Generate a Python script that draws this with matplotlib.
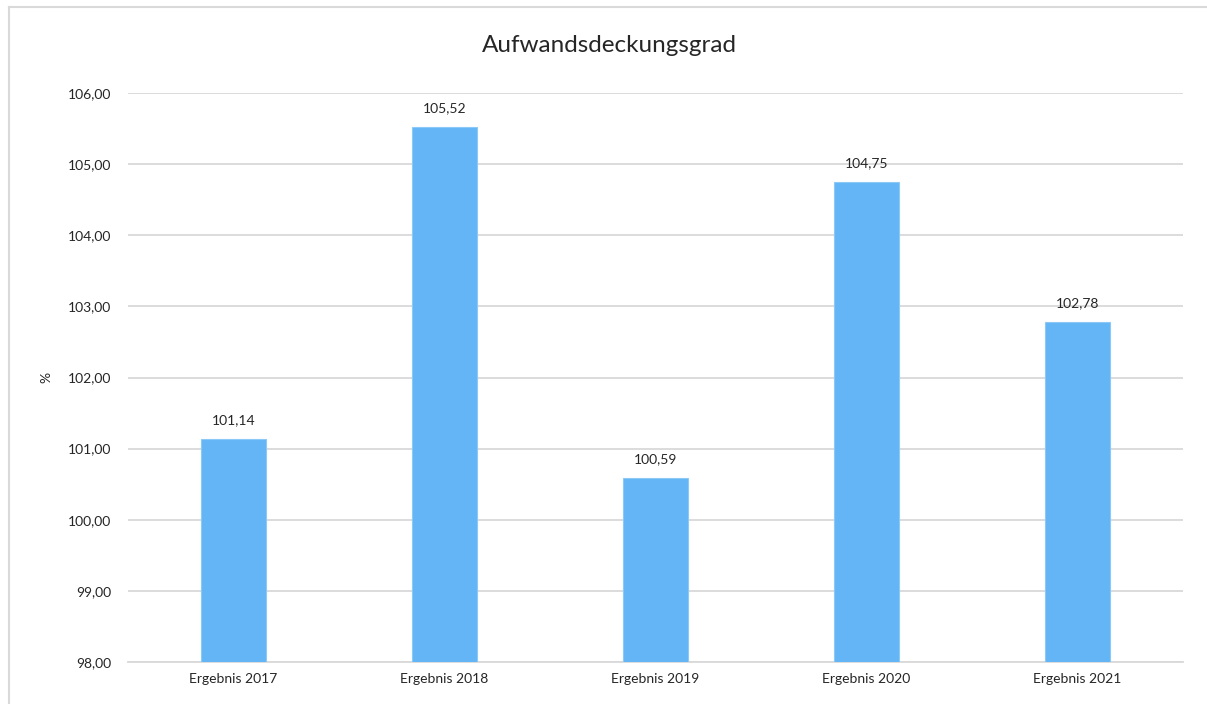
import matplotlib.pyplot as plt
from matplotlib.lines import Line2D

categories = ["Ergebnis 2017", "Ergebnis 2018", "Ergebnis 2019", "Ergebnis 2020", "Ergebnis 2021"]
values = [101.14, 105.52, 100.59, 104.75, 102.78]
yticks = [98, 99, 100, 101, 102, 103, 104, 105, 106]

plt.rcParams['font.family'] = ['Lato', 'DejaVu Sans']

fig = plt.figure(figsize=(12.07, 7.04), dpi=100)
ax = fig.add_axes([128 / 1207, 1 - 662 / 704, (1183 - 128) / 1207, (662 - 93) / 704])

x = list(range(len(categories)))
bars = ax.bar(x, values, width=0.31, color='#63B5F5', edgecolor='#8CC9F7', linewidth=0.8, zorder=3, bottom=0)

for xi, v in zip(x, values):
    ax.annotate(("%.2f" % v).replace('.', ','), (xi, v), xytext=(0, 9), textcoords='offset points',
                ha='center', va='bottom', fontsize=10, color='#262626')

ax.set_ylim(98, 106)
ax.set_xlim(-0.5, len(categories) - 0.5)
ax.set_yticks(yticks)
ax.set_yticklabels([("%.2f" % t).replace('.', ',') for t in yticks], fontsize=10, color='#262626')
ax.set_xticks(x)
ax.set_xticklabels(categories, fontsize=10, color='#262626')
ax.tick_params(axis='both', length=0)
ax.tick_params(axis='y', pad=12)
ax.tick_params(axis='x', pad=8)
ax.grid(axis='y', color='#D9D9D9', linewidth=1.3, zorder=0)
for s in ['top', 'right', 'left']:
    ax.spines[s].set_visible(False)
ax.spines['bottom'].set_color('#D9D9D9')
ax.spines['bottom'].set_linewidth(1.3)

ax.set_ylabel('%', fontsize=10, color='#262626')
ax.yaxis.set_label_coords((52 - 128) / 1055, 0.5)
fig.text(609.5 / 1207, 1 - 46 / 704, 'Aufwandsdeckungsgrad', ha='center', va='center', fontsize=17.5, color='#262626')

# light frame on the left and top
fig.add_artist(Line2D([8.5 / 1207, 8.5 / 1207], [0, 1 - 7 / 704], color='#D9D9D9', linewidth=1.5))
fig.add_artist(Line2D([8.5 / 1207, 1206 / 1207], [1 - 7 / 704, 1 - 7 / 704], color='#D9D9D9', linewidth=1.5))

fig.savefig('out.png', dpi=100)
